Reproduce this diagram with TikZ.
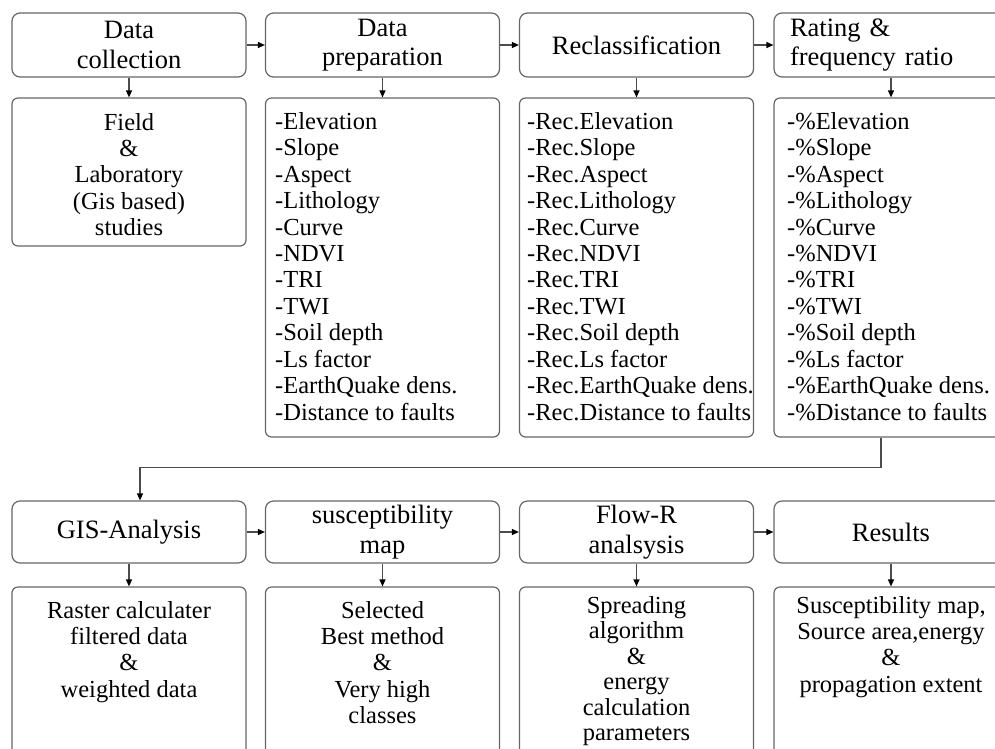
\documentclass[tikz,border=0pt]{standalone}
\usepackage{fontspec}
\setmainfont{Liberation Serif}
\usetikzlibrary{arrows.meta,calc}
\begin{document}
\begin{tikzpicture}[x=1pt,y=-1pt,
 hdr/.style={draw=black!60, line width=1.2pt, rounded corners=8pt, minimum width=234pt, minimum height=64pt, align=center, inner sep=0pt, font=\fontsize{26.5}{29.5}\selectfont},
 box/.style={draw=black!60, line width=1.2pt, rounded corners=6pt, minimum width=234pt, inner sep=0pt},
 lst/.style={anchor=north west, align=left, inner sep=0pt, font=\fontsize{24.5}{26.45}\selectfont},
 ctr/.style={anchor=north, align=center, inner sep=0pt, font=\fontsize{24.5}{26.3}\selectfont},
 arr/.style={-{Triangle[length=7pt,width=6pt,color=black]}, line width=1.2pt, draw=black!70},
]
\useasboundingbox (0,0) rectangle (995,748);
% top headers
\node[hdr] (h1) at (129,45) {Data\\collection};
\node[hdr] (h2) at (382.5,45) {Data\\preparation};
\node[hdr] (h3) at (636.5,45) {Reclassification};
\node[hdr, align=left, text width=202pt] (h4) at (891,45) {Rating \&\\frequency ratio};
% top details
\node[box, minimum height=148pt] (d1) at (129,172) {};
\node[box, minimum height=339pt] (d2) at (382.5,267.5) {};
\node[box, minimum height=339pt] (d3) at (636.5,267.5) {};
\node[box, minimum height=339pt] (d4) at (891,267.5) {};
\node[ctr] (t1) at (129,113) {Field\\\&\\Laboratory\\(Gis based)\\studies};
\node[lst] (t2) at (275,112) {-Elevation\\-Slope\\-Aspect\\-Lithology\\-Curve\\-NDVI\\-TRI\\-TWI\\-Soil depth\\-Ls factor\\-EarthQuake dens.\\-Distance to faults};
\node[lst] (t3) at (527,112) {-Rec.Elevation\\-Rec.Slope\\-Rec.Aspect\\-Rec.Lithology\\-Rec.Curve\\-Rec.NDVI\\-Rec.TRI\\-Rec.TWI\\-Rec.Soil depth\\-Rec.Ls factor\\-Rec.EarthQuake dens.\\-Rec.Distance to faults};
\node[lst] (t4) at (787,112) {-\%Elevation\\-\%Slope\\-\%Aspect\\-\%Lithology\\-\%Curve\\-\%NDVI\\-\%TRI\\-\%TWI\\-\%Soil depth\\-\%Ls factor\\-\%EarthQuake dens.\\-\%Distance to faults};
% bottom headers
\node[hdr, minimum height=62pt] (g1) at (129,532) {GIS-Analysis};
\node[hdr, minimum height=62pt] (g2) at (382.5,532) {susceptibility\\map};
\node[hdr, minimum height=62pt] (g3) at (636.5,532) {Flow-R\\analsysis};
\node[hdr, minimum height=62pt] (g4) at (891,532) {Results};
% bottom details
\node[box, minimum height=200pt] (e1) at (129,687) {};
\node[box, minimum height=200pt] (e2) at (382.5,687) {};
\node[box, minimum height=200pt] (e3) at (636.5,687) {};
\node[box, minimum height=200pt] (e4) at (891,687) {};
\node[ctr] (u1) at (129,601) {Raster calculater\\filtered data\\\&\\weighted data};
\node[ctr] (u2) at (382.5,601) {Selected\\Best method\\\&\\Very high\\classes};
\node[ctr, font=\fontsize{24.5}{25.5}\selectfont] (u3) at (636.5,596) {Spreading\\algorithm\\\&\\energy\\calculation\\parameters};
\node[ctr] (u4) at (891,596) {Susceptibility map,\\Source area,energy\\\&\\propagation extent};
% connectors
\draw[arr] (h1) -- (h2);
\draw[arr] (h2) -- (h3);
\draw[arr] (h3) -- (h4);
\draw[arr] (h1) -- (d1);
\draw[arr] (h2) -- (d2);
\draw[arr] (h3) -- (d3);
\draw[arr] (h4) -- (d4);
\draw[arr] (g1) -- (g2);
\draw[arr] (g2) -- (g3);
\draw[arr] (g3) -- (g4);
\draw[arr] (g1) -- (e1);
\draw[arr] (g2) -- (e2);
\draw[arr] (g3) -- (e3);
\draw[arr] (g4) -- (e4);
\coordinate (c1) at ($(d4.south)+(-10,0)$);
\coordinate (c2) at ($(g1.north)+(11,0)$);
\draw[arr] (c1) -- ++(0,30) -| (c2);
\end{tikzpicture}
\end{document}
